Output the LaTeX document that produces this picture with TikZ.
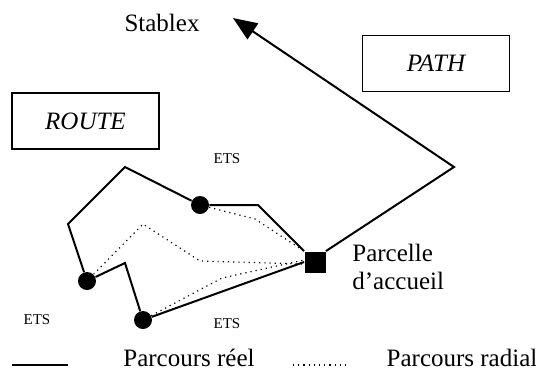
\documentclass[tikz,border=0pt]{standalone}
\usepackage{fontspec}
\setmainfont{Liberation Serif}
\usetikzlibrary{arrows.meta}
\usetikzlibrary{positioning}
\tikzset{
    ets/.style={
           circle,
           fill=black,
           minimum size=9pt,
           inner sep=0pt,
           },
    parcelle/.style={
           rectangle,
           fill=black,
           minimum size=10.5pt,
           inner sep=0pt,
           },
    cadre/.style={
           rectangle,
           draw=black, line width=0.8pt,
           minimum width=73.5pt,
           minimum height=28pt,
           font=\fontsize{12.5}{15}\selectfont\itshape,
           },
    grand/.style={font=\fontsize{12.5}{15}\selectfont, inner sep=0pt},
    petit/.style={font=\fontsize{7.5}{9}\selectfont, inner sep=0pt},
    reel/.style={line width=1pt},
    radial/.style={dotted, line width=0.6pt},
}

\begin{document}
\begin{tikzpicture}[x=0.5pt,y=-0.5pt,>={Triangle[length=12pt,width=9.5pt]}]
 \useasboundingbox (0,0) rectangle (536,371);

 % boxes and labels
 \node[cadre] (ROUTE) at (85.5,121) {ROUTE};
 \node[cadre] (PATH) at (436,63.5) {PATH};
 \node[grand] (STABLEX) at (162,23) {Stablex};
 \coordinate (DEST) at (233,18);

 % sites ETS and the parcel
 \node[ets] (E1) at (200,205) {};
 \node[ets] (E2) at (87,281) {};
 \node[ets] (E3) at (143,320) {};
 \node[parcelle] (SQ) at (315,262) {};

 \node[petit] (ETS1) at (227,159) {ETS};
 \node[petit] (ETS2) at (37,320) {ETS};
 \node[petit] (ETS3) at (227,324) {ETS};
 \node[grand, anchor=west, align=left] (ACC) at (352,267)
      {Parcelle\\[-0.6pt]d'accueil};

 % real routes
 \draw[reel] (E1) -- (125,167) -- (68,224) -- (E2);
 \draw[reel] (E2) -- (125,263) -- (E3);
 \draw[reel] (E3) -- (SQ.west);
 \draw[reel] (E1) -- (258,205) -- (SQ.north west);
 \draw[reel,->] (SQ.north east) -- (454,167) -- (DEST);

 % radial routes
 \draw[radial] (E1) -- (255,219) -- (SQ.north west);
 \draw[radial] (E2) -- (143,224) -- (200,261) -- ([yshift=-1pt]SQ.west);
 \draw[radial] (E3) -- (222,278) -- ([yshift=1pt]SQ.west);

 % legend
 \coordinate (L1) at (12,365);
 \coordinate (L2) at (68,365);
 \coordinate (L3) at (293,365);
 \coordinate (L4) at (350,365);
 \draw[reel] (L1) -- (L2);
 \draw[radial] (L3) -- (L4);
 \node[grand] (REEL) at (189,358) {Parcours réel};
 \node[grand] (RADIAL) at (462,358) {Parcours radial};
\end{tikzpicture}
\end{document}
